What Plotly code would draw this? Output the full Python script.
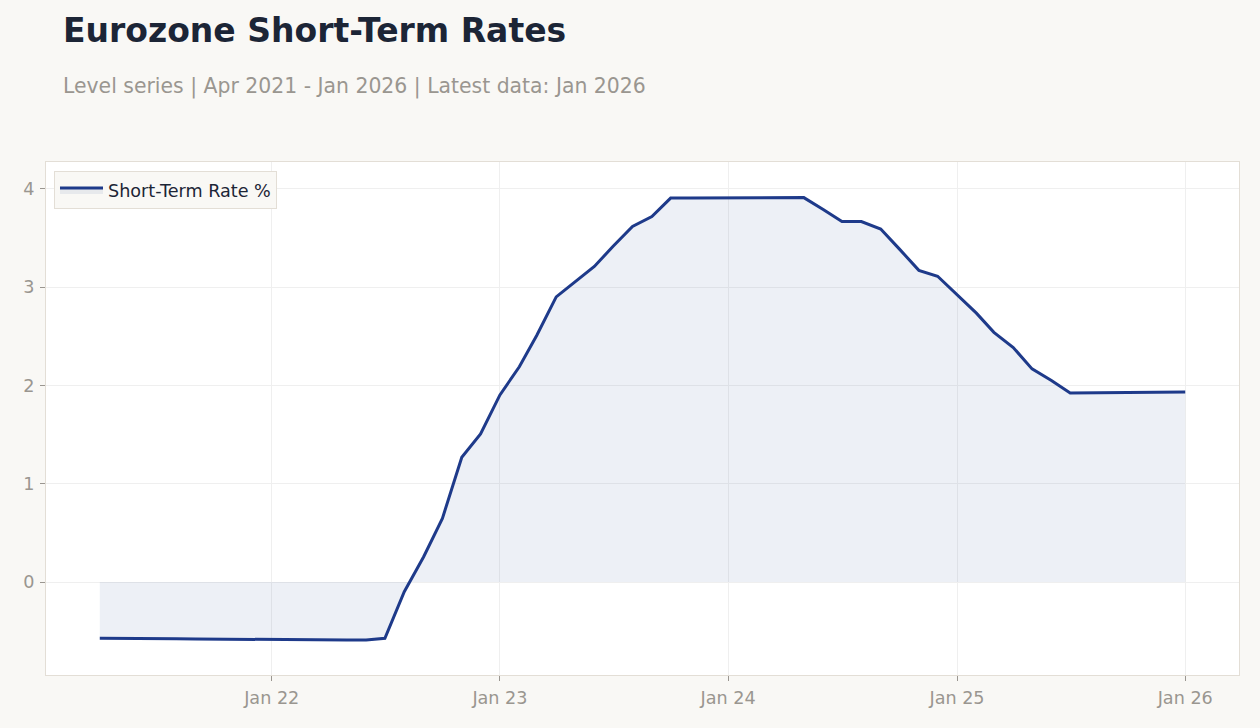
import plotly.graph_objects as go

months = [
    "2021-04-01", "2021-05-01", "2021-06-01", "2021-07-01", "2021-08-01", "2021-09-01",
    "2021-10-01", "2021-11-01", "2021-12-01",
    "2022-01-01", "2022-02-01", "2022-03-01", "2022-04-01", "2022-05-01", "2022-06-01",
    "2022-07-01", "2022-08-01", "2022-09-01", "2022-10-01", "2022-11-01", "2022-12-01",
    "2023-01-01", "2023-02-01", "2023-03-01", "2023-04-01", "2023-05-01", "2023-06-01",
    "2023-07-01", "2023-08-01", "2023-09-01", "2023-10-01", "2023-11-01", "2023-12-01",
    "2024-01-01", "2024-02-01", "2024-03-01", "2024-04-01", "2024-05-01", "2024-06-01",
    "2024-07-01", "2024-08-01", "2024-09-01", "2024-10-01", "2024-11-01", "2024-12-01",
    "2025-01-01", "2025-02-01", "2025-03-01", "2025-04-01", "2025-05-01", "2025-06-01",
    "2025-07-01", "2025-08-01", "2025-09-01", "2025-10-01", "2025-11-01", "2025-12-01",
    "2026-01-01",
]

rates = [
    -0.570, -0.570, -0.572, -0.575, -0.577, -0.578,
    -0.580, -0.582, -0.585,
    -0.587, -0.585, -0.586, -0.590, -0.590, -0.588,
    -0.572, -0.098, 0.258, 0.648, 1.270, 1.506,
    1.903, 2.190, 2.510, 2.900, 3.055, 3.210,
    3.415, 3.617, 3.718, 3.905, 3.906, 3.906,
    3.906, 3.910, 3.909, 3.910, 3.910, 3.790,
    3.667, 3.667, 3.590, 3.386, 3.170, 3.110,
    2.920, 2.735, 2.540, 2.385, 2.168, 2.050,
    1.924, 1.925, 1.925, 1.927, 1.930, 1.930,
    1.932,
]

series_name = "Short-Term Rate %"
title_text = "Eurozone Short-Term Rates"
subtitle_text = "Level series | Apr 2021 - Jan 2026 | Latest data: Jan 2026"
x_tick_vals = ["2022-01-01", "2023-01-01", "2024-01-01", "2025-01-01", "2026-01-01"]
x_tick_text = ["Jan 22", "Jan 23", "Jan 24", "Jan 25", "Jan 26"]

LINE = "#1e3a8a"
PAPER = "#f9f8f5"
GRID = "#efefef"
FRAME = "#e3ded6"
TICK_COL = "#9a9690"
FONT = "DejaVu Sans"
TICK_SIZE = 17.6

fig = go.Figure()
fig.add_trace(go.Scatter(
    x=months, y=rates, mode="lines", name=series_name,
    line=dict(color=LINE, width=3),
    fill="tozeroy", fillcolor="rgba(30,58,138,0.08)",
))

fig.update_layout(
    width=1260, height=728,
    paper_bgcolor=PAPER, plot_bgcolor="white",
    margin=dict(l=46, r=21, t=162, b=53),
    font=dict(family=FONT, color=TICK_COL, size=TICK_SIZE),
    title=dict(text="<b>" + title_text + "</b>", x=63 / 1260, xanchor="left",
               xref="container", yref="container", y=1 - 30 / 728, yanchor="middle",
               font=dict(family=FONT, size=33, color="#1c2536")),
    annotations=[dict(text=subtitle_text, xref="paper", yref="paper",
                      x=(61 - 46) / 1193, y=(675 - 86) / 513, xanchor="left", yanchor="middle",
                      showarrow=False, font=dict(family=FONT, size=20.4, color="#9a9690"))],
    showlegend=True,
    legend=dict(x=(54 - 46) / 1193, y=(675 - 171) / 513, xanchor="left", yanchor="top",
                bgcolor=PAPER, bordercolor=FRAME, borderwidth=1, itemwidth=43,
                font=dict(family=FONT, size=TICK_SIZE, color="#1c2536")),
)

fig.update_xaxes(
    type="date", range=["2021-01-05", "2026-03-28"],
    tickvals=x_tick_vals, ticktext=x_tick_text,
    showgrid=True, gridcolor=GRID, gridwidth=1,
    ticks="outside", ticklen=5, tickcolor=TICK_COL, ticklabelstandoff=2,
    showline=True, linecolor=FRAME, linewidth=1, mirror=True,
    zeroline=False, tickfont=dict(size=TICK_SIZE, color=TICK_COL),
)
fig.update_yaxes(
    range=[-0.945, 4.272], dtick=1, tick0=0,
    showgrid=True, gridcolor=GRID, gridwidth=1,
    ticks="outside", ticklen=5, tickcolor=TICK_COL, ticklabelstandoff=2,
    showline=True, linecolor=FRAME, linewidth=1, mirror=True,
    zeroline=False, tickfont=dict(size=TICK_SIZE, color=TICK_COL),
)

fig.write_html("out.html")
